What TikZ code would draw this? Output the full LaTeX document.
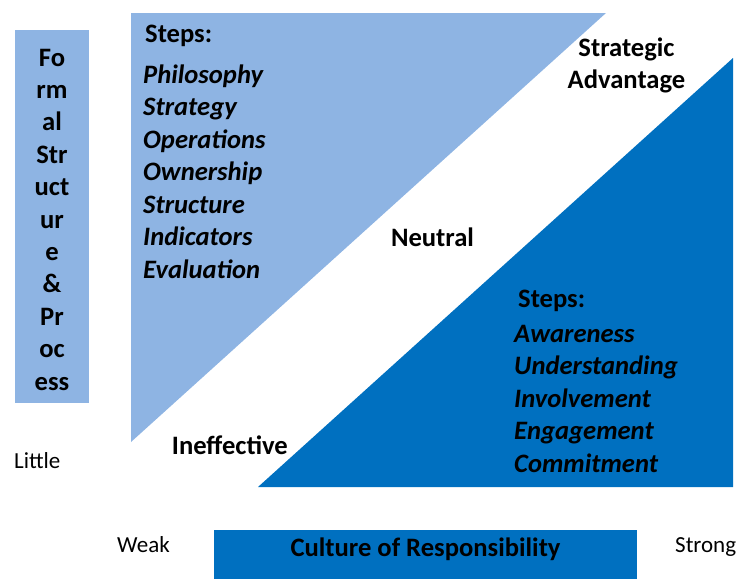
\documentclass[tikz,border=0pt]{standalone}
\usepackage{fontspec}
\setmainfont{Carlito}
\definecolor{lightblue}{HTML}{8EB4E3}
\definecolor{darkblue}{HTML}{0070C0}
\begin{document}
\begin{tikzpicture}[x=1pt,y=-1pt,
  txt/.style={inner sep=0pt,font=\fontsize{26.6}{32.5}\selectfont\bfseries},
  listtxt/.style={inner sep=0pt,font=\fontsize{26.6}{32.5}\selectfont\bfseries\itshape},
  regtxt/.style={inner sep=0pt,font=\fontsize{23}{28}\selectfont}]
\useasboundingbox (0,0) rectangle (740,579);
% shapes
\fill[lightblue] (15,30) rectangle (89,403);
\fill[lightblue] (131,13) -- (606,13) -- (131,442) -- cycle;
\fill[darkblue] (258,487) -- (733,487) -- (733,58) -- cycle;
\fill[darkblue] (214,530) rectangle (637,579);
% left box text
\foreach \t [count=\i from 0] in {Fo,rm,al,Str,uct,ur,e,\&,Pr,oc,ess}{
  \node[txt,anchor=base] (fs\i) at (52,66+32.4*\i) {\t};
}
% light triangle
\node[txt,anchor=base west] (steps1) at (145,42.5) {Steps:};
\foreach \t [count=\i from 0] in {Philosophy,Strategy,Operations,Ownership,Structure,Indicators,Evaluation}{
  \node[listtxt,anchor=base west] (la\i) at (143,83.2+32.5*\i) {\t};
}
% dark triangle
\node[txt,anchor=base west] (steps2) at (518,307.5) {Steps:};
\foreach \t [count=\i from 0] in {Awareness,Understanding,Involvement,Engagement,Commitment}{
  \node[listtxt,anchor=base west] (lb\i) at (514,342.5+32.4*\i) {\t};
}
% labels
\node[txt,anchor=base] (strat1) at (626.5,56.5) {Strategic};
\node[txt,anchor=base] (strat2) at (626.5,88.8) {Advantage};
\node[txt,anchor=base] (neutral) at (432.5,246) {Neutral};
\node[txt,anchor=base west] (ineff) at (171.7,454.3) {Ineffective};
\node[regtxt,anchor=base west] (little) at (14,468.8) {Little};
\node[regtxt,anchor=base west] (weak) at (117,552.2) {Weak};
\node[regtxt,anchor=base west] (strong) at (675,552.2) {Strong};
\node[txt,anchor=base] (culture) at (425.5,556) {Culture of Responsibility};
\end{tikzpicture}
\end{document}
